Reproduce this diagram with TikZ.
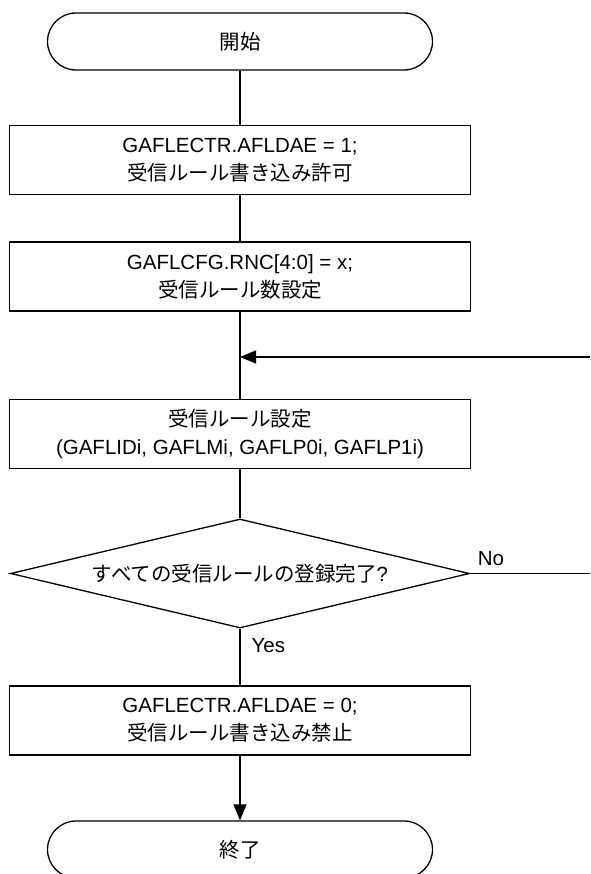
\documentclass[tikz,border=0pt]{standalone}
\usepackage{fontspec}
\setmainfont{Liberation Sans}
\newfontfamily\jpfont{Noto Sans CJK JP}
\usetikzlibrary{arrows.meta,shapes.geometric}

\begin{document}
\begin{tikzpicture}[x=1pt,y=-1pt,font=\fontsize{20.5}{28}\selectfont,
  proc/.style={draw,line width=1.3pt,minimum width=461pt,minimum height=69pt,
  align=center,inner sep=0pt},
  term/.style={draw,line width=1.3pt,rounded corners=28.5pt,minimum width=385pt,
  minimum height=57pt,inner sep=0pt},
  decide/.style={draw,diamond,aspect=4.2,line width=1.3pt,minimum width=459pt,
  minimum height=109pt,inner sep=0pt},
  flow/.style={line width=1.3pt},
  flowarr/.style={-{Triangle[length=16pt,width=13pt]},line width=1.3pt}]
\useasboundingbox (0,0) rectangle (590,874);
\node[term] (start) at (240,41.5) {\jpfont 開始};
\node[proc] (enable) at (240,160) {GAFLECTR.AFLDAE = 1;\\{\jpfont 受信ルール書き込み許可}};
\node[proc] (count) at (240,276.5) {GAFLCFG.RNC[4:0] = x;\\{\jpfont 受信ルール数設定}};
\coordinate (join) at (240,357);
\coordinate (back) at (590,357);
\node[proc] (rule) at (240,434) {{\jpfont 受信ルール設定}\\(GAFLIDi, GAFLMi, GAFLP0i, GAFLP1i)};
\node[decide] (done) at (240,573.5) {{\jpfont すべての受信ルールの登録完了}?};
\coordinate (noend) at (590,573.5);
\node[proc] (disable) at (240,720.5) {GAFLECTR.AFLDAE = 0;\\{\jpfont 受信ルール書き込み禁止}};
\node[term] (stop) at (240,849.5) {\jpfont 終了};
\draw[flow] (start) -- (enable);
\draw[flow] (enable) -- (count);
\draw[flow] (count) -- (rule);
\draw[flowarr] (back) -- (join);
\draw[flow] (rule) -- (done);
\draw[flow] (done.east) -- node[pos=0,anchor=base west,inner sep=0pt,xshift=7pt,yshift=8.5pt]{No} (noend);
\draw[flow] (done.south) -- node[pos=0.3,right,inner sep=0pt,xshift=11pt]{Yes} (disable.north);
\draw[flowarr] (disable) -- (stop);
\end{tikzpicture}
\end{document}
